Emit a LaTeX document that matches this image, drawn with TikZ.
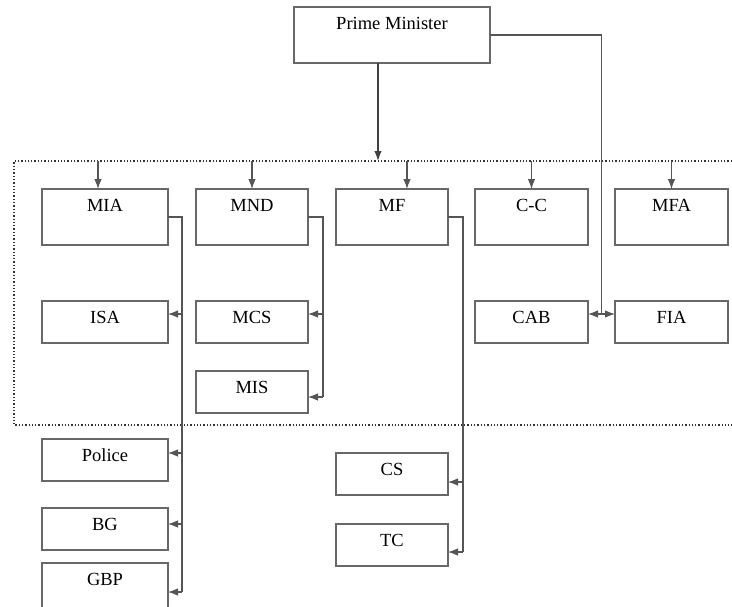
\documentclass[tikz,border=0pt]{standalone}
\usepackage{fontspec}
\setmainfont{Liberation Serif}
\usepackage{tikz}
\usetikzlibrary{positioning}
\usetikzlibrary{arrows.meta}
\definecolor{boxgray}{HTML}{686868}
\definecolor{linegray}{HTML}{555555}

\begin{document}
\begin{tikzpicture}[
        x = 1pt, y = 1pt,
        unit/.style = {
            draw = boxgray,
            line width = 1.3pt,
            inner sep = 0pt,
            outer sep = 0pt,
            minimum width = #1,
            text height = 22.5pt,
            text depth = 19.5pt,
            font = \fontsize{18.5}{20}\selectfont
        },
        unit/.default = 112pt,
        tall/.style = {text depth = 33.5pt},
        link/.style = {draw = linegray, line width = 1.1pt},
        feed/.style = {link, -{Latex[length=10pt, width=7.5pt]}},
        twoway/.style = {link, {Latex[length=10pt, width=7.5pt]}-{Latex[length=10pt, width=7.5pt]}},
        frame/.style = {draw = black!80, line width = 1.3pt, dash pattern = on 1.3pt off 2pt}
        ]
%
        \useasboundingbox (0,0) rectangle (732,-606);
        \clip (0,0) rectangle (732,-606);
%
        \node[unit=196pt, tall, anchor=north] (PM) at (392,-7) {Prime Minister};
%
        \node[unit=126pt, tall, anchor=north west] (MIA) at (42,-189) {MIA};
        \node[unit, tall, right=28pt of MIA] (MND) {MND};
        \node[unit, tall, right=28pt of MND] (MF) {MF};
        \node[unit=113pt, tall, right=27pt of MF] (CC) {C-C};
        \node[unit=113pt, tall, right=27pt of CC] (MFA) {MFA};
%
        \node[unit=126pt, below=56pt of MIA] (ISA) {ISA};
        \node[unit, below=56pt of MND] (MCS) {MCS};
        \node[unit, below=28pt of MCS] (MIS) {MIS};
        \node[unit=113pt, below=56pt of CC] (CAB) {CAB};
        \node[unit=113pt, below=56pt of MFA] (FIA) {FIA};
%
        \node[unit=126pt, below=96pt of ISA] (Police) {Police};
        \node[unit=126pt, below=27pt of Police] (BG) {BG};
        \node[unit=126pt, text depth=26pt, below=13pt of BG] (GBP) {GBP};
        \node[unit, below=208pt of MF] (CS) {CS};
        \node[unit, below=29pt of CS] (TC) {TC};
%
        \coordinate (frameNE) at (732,-161);
        \coordinate (frameNW) at (14,-161);
        \coordinate (frameSW) at (14,-425);
        \coordinate (frameSE) at (732,-425);
        \draw[frame] (frameNE) -- (frameNW) -- (frameSW) -- (frameSE);
%
        \draw[feed, line width=1.5pt, draw=black!75] ([xshift=-14pt]PM.south) -- ([xshift=-14pt]PM.south |- frameNW);
%
        \draw[feed] ([xshift=-7pt]MIA.north |- frameNW) -- ([xshift=-7pt]MIA.north);
        \draw[feed] (MND.north |- frameNW) -- (MND.north);
        \draw[feed] ([xshift=15pt]MF.north |- frameNW) -- ([xshift=15pt]MF.north);
        \draw[feed] (CC.north |- frameNW) -- (CC.north);
        \draw[feed] (MFA.north |- frameNW) -- (MFA.north);
%
        \draw[link] (PM.east) -| ([xshift=13.5pt, yshift=8pt]CAB.east);
        \draw[twoway] ([yshift=8pt]CAB.east) -- ([yshift=8pt]FIA.west);
%
        \draw[link] (MIA.east) -| ([xshift=14pt, yshift=-4.75pt]GBP.east);
        \draw[feed] ([xshift=14pt, yshift=8pt]ISA.east) -- ([yshift=8pt]ISA.east);
        \draw[feed] ([xshift=14pt, yshift=7pt]Police.east) -- ([yshift=7pt]Police.east);
        \draw[feed] ([xshift=14pt, yshift=5pt]BG.east) -- ([yshift=5pt]BG.east);
        \draw[feed] ([xshift=14pt, yshift=-4.75pt]GBP.east) -- ([yshift=-4.75pt]GBP.east);
%
        \draw[link] (MND.east) -| ([xshift=15pt, yshift=-5pt]MIS.east);
        \draw[feed] ([xshift=15pt, yshift=8pt]MCS.east) -- ([yshift=8pt]MCS.east);
        \draw[feed] ([xshift=15pt, yshift=-5pt]MIS.east) -- ([yshift=-5pt]MIS.east);
%
        \draw[link] (MF.east) -| ([xshift=15pt, yshift=-7pt]TC.east);
        \draw[feed] ([xshift=15pt, yshift=-8pt]CS.east) -- ([yshift=-8pt]CS.east);
        \draw[feed] ([xshift=15pt, yshift=-7pt]TC.east) -- ([yshift=-7pt]TC.east);
%
\end{tikzpicture}
\end{document}
